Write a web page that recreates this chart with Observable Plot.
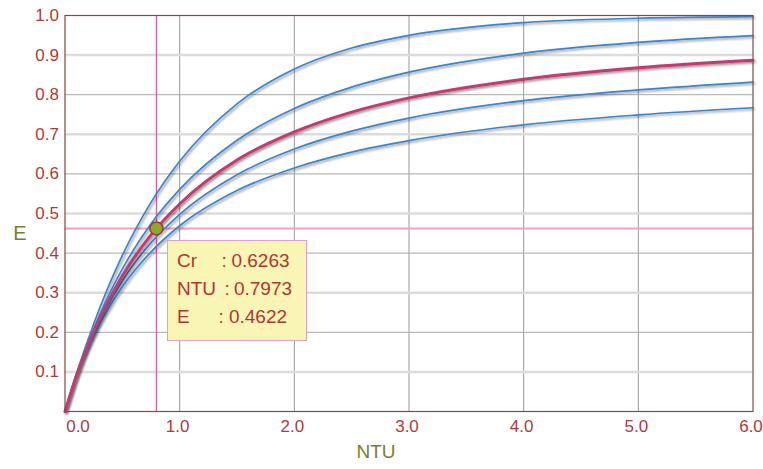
<!DOCTYPE html>
<html>
<head>
<meta charset="utf-8">
<script src="https://cdn.jsdelivr.net/npm/d3@7"></script>
<script src="https://cdn.jsdelivr.net/npm/@observablehq/plot@0.6"></script>
<style>
  html, body { margin: 0; padding: 0; background: #fff; }
  #wrap { position: relative; width: 763px; height: 469px; font-family: "Liberation Sans", Arial, sans-serif; }
  #tip { position: absolute; box-sizing: border-box; width: 140px; height: 101px; background: #f9f5b4; border: 1px solid #e2a0c8;
         color: #b03535; font-size: 19px; }
  #tip .row { position: absolute; left: 0; height: 28px; width: 100%; }
  #tip .row span { position: absolute; top: 0; white-space: nowrap; }
</style>
</head>
<body>
<div id="wrap"></div>
<script>
// NTU sample points
const ntu = [0, 0.1, 0.25, 0.5, 0.75, 1, 1.5, 2, 2.5, 3, 4, 5, 6];
// Effectiveness E read per curve (Cr value of each curve)
const crValues = [0, 0.4, 0.8, 1];
const eCr0   = [0, 0.095, 0.221, 0.394, 0.528, 0.632, 0.777, 0.865, 0.918, 0.950, 0.982, 0.993, 0.997];
const eCr04  = [0, 0.092, 0.209, 0.360, 0.474, 0.561, 0.685, 0.765, 0.819, 0.857, 0.905, 0.932, 0.949];
const eCr08  = [0, 0.089, 0.197, 0.330, 0.426, 0.498, 0.598, 0.663, 0.708, 0.741, 0.785, 0.812, 0.832];
const eCr1   = [0, 0.088, 0.191, 0.315, 0.403, 0.469, 0.558, 0.615, 0.655, 0.684, 0.724, 0.749, 0.767];
// highlighted curve
const crSel = 0.6263;
const eSelCurve = [0, 0.091, 0.202, 0.342, 0.446, 0.524, 0.635, 0.706, 0.756, 0.792, 0.839, 0.868, 0.887];
// selected point
const ntuSel = 0.7973;
const eSel = 0.4622;
// ticks
const xTicks = [0, 1, 2, 3, 4, 5, 6];
const yTicks = [0.1, 0.2, 0.3, 0.4, 0.5, 0.6, 0.7, 0.8, 0.9, 1.0];
// tooltip lines
const tipLabels = ["Cr", "NTU", "E"];
const tipValues = [crSel, ntuSel, eSel];

const blueSeries = [eCr0, eCr04, eCr08, eCr1];
const blueRows = blueSeries.flatMap((arr, i) => arr.map((e, j) => ({ntu: ntu[j], e, cr: crValues[i]})));
const selRows = eSelCurve.map((e, j) => ({ntu: ntu[j], e}));

const labelColor = "#b03a3a";
const olive = "#7b7d2c";

const chart = Plot.plot({
  width: 763,
  height: 469,
  marginTop: 15,
  marginBottom: 58,
  marginLeft: 64.5,
  marginRight: 10.5,
  style: { fontFamily: "'Liberation Sans', Arial, sans-serif", background: "#fff", overflow: "visible" },
  x: { domain: [0, 6] },
  y: { domain: [0, 1] },
  marks: [
    Plot.gridX([1, 2, 3, 4, 5], { stroke: "#9a9a9a", strokeOpacity: 1, strokeWidth: 1 }),
    Plot.gridY([0.1, 0.3, 0.5, 0.7, 0.9], { stroke: "#dcdcdc", strokeOpacity: 1, strokeWidth: 2.5 }),
    Plot.gridY([0.2, 0.4, 0.6, 0.8], { stroke: "#a8a8a8", strokeOpacity: 1, strokeWidth: 1 }),
    Plot.ruleX([ntuSel], { stroke: "#e0609c", strokeWidth: 1.3 }),
    Plot.ruleY([eSel], { stroke: "#f0a0c2", strokeWidth: 2 }),
    Plot.line(blueRows, { x: "ntu", y: "e", z: "cr", stroke: "#3b84cc", strokeWidth: 1.7, curve: "monotone-x" }),
    Plot.line(selRows, { x: "ntu", y: "e", stroke: "#c23a70", strokeWidth: 3, curve: "monotone-x" }),
    Plot.frame({ stroke: "#8b4642", strokeWidth: 1.2 }),
    Plot.dot([{ntu: ntuSel, e: eSel}], { x: "ntu", y: "e", r: 6.5, fill: "#8ea62c", stroke: "#a33a2e", strokeWidth: 1.5 }),
    Plot.axisY(yTicks, { tickSize: 0, tickPadding: 6, tickFormat: d3.format(".1f"), color: labelColor, fontSize: 17, label: null }),
    Plot.axisX(xTicks.slice(1), { tickSize: 0, tickPadding: 8, dx: -2, tickFormat: d3.format(".1f"), color: labelColor, fontSize: 17, label: null }),
    Plot.axisX([0], { tickSize: 0, tickPadding: 8, dx: 13, tickFormat: d3.format(".1f"), color: labelColor, fontSize: 17, label: null }),
    Plot.text(["E"], { frameAnchor: "left", dx: -45, dy: 20, fill: olive, fontSize: 20, textAnchor: "middle" }),
    Plot.text(["NTU"], { frameAnchor: "bottom", dx: -33, dy: 46, fill: olive, fontSize: 19, textAnchor: "middle" })
  ]
});

// drop shadow for curves
const svg = d3.select(chart);
const defs = svg.insert("defs", ":first-child");
const f = defs.append("filter").attr("id", "curveShadow").attr("x", "-10%").attr("y", "-10%").attr("width", "130%").attr("height", "130%");
f.append("feDropShadow").attr("dx", 1.5).attr("dy", 1.5).attr("stdDeviation", 1).attr("flood-color", "#000").attr("flood-opacity", 0.45);
svg.selectAll('g[aria-label="line"]').attr("filter", "url(#curveShadow)");

const wrap = document.getElementById("wrap");
wrap.appendChild(chart);

// tooltip box positioned from the scales
const sx = chart.scale("x"), sy = chart.scale("y");
const tip = document.createElement("div");
tip.id = "tip";
tip.style.left = (sx.apply(ntuSel) + 11.5) + "px";
tip.style.top = (sy.apply(eSel) + 12) + "px";
const colonX = [53, 56, 50];
const valueX = [63, 65.5, 60.5];
tip.innerHTML = tipLabels.map((lab, i) =>
  `<div class="row" style="top:${9 + i * 28}px"><span style="left:8.5px">${lab}</span>` +
  `<span style="left:${colonX[i]}px">:</span><span style="left:${valueX[i]}px">${tipValues[i].toFixed(4)}</span></div>`
).join("");
wrap.appendChild(tip);
</script>
</body>
</html>
